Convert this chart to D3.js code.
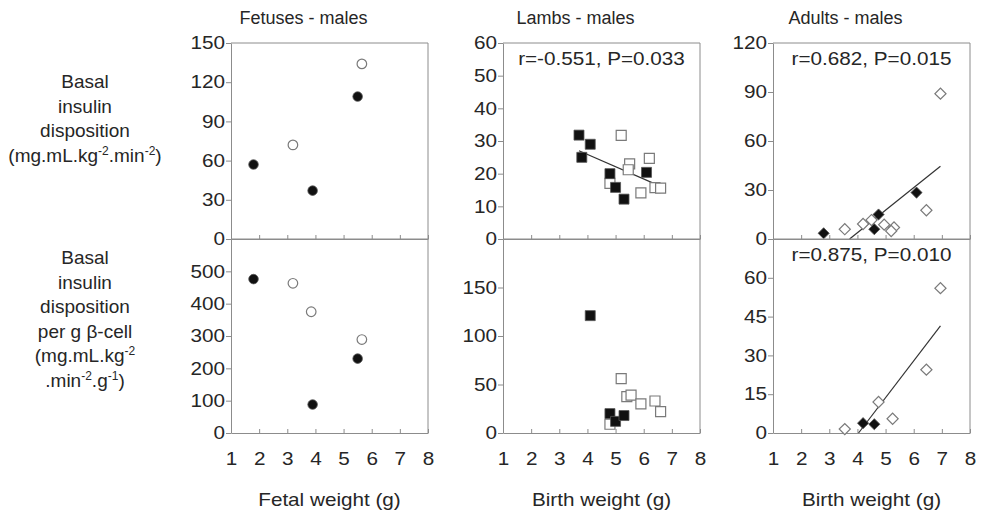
<!DOCTYPE html>
<html>
<head>
<meta charset="utf-8">
<script src="https://cdn.jsdelivr.net/npm/d3@7"></script>
<style>
  body { margin: 0; background: #fff; }
  text { font-family: "Liberation Sans", Arial, sans-serif; fill: #262626; }
</style>
</head>
<body>
<div id="chart"></div>
<script>
// ---- data ----
const columnTitles = ["Fetuses - males", "Lambs - males", "Adults - males"];
const xTitles = ["Fetal weight (g)", "Birth weight (g)", "Birth weight (g)"];
const xTicks = [1, 2, 3, 4, 5, 6, 7, 8];

const topTicks = [[0, 30, 60, 90, 120, 150], [0, 10, 20, 30, 40, 50, 60], [0, 30, 60, 90, 120]];
const bottomTicks = [[0, 100, 200, 300, 400, 500], [0, 50, 100, 150], [0, 15, 30, 45, 60]];
const topMax = [150, 60, 120];
const bottomMax = [600, 200, 75];

// Fetuses (circles)
const fetusTopFilled = [[1.8, 57], [3.9, 37], [5.5, 109]];
const fetusTopOpen = [[3.2, 72], [5.65, 134]];
const fetusBotFilled = [[1.8, 476], [3.9, 88], [5.5, 230]];
const fetusBotOpen = [[3.2, 463], [3.85, 375], [5.65, 289]];

// Lambs (squares)
const lambTopFilled = [[3.7, 31.8], [4.1, 29], [3.8, 25], [4.8, 20], [5.0, 15.8], [5.3, 12.2], [6.1, 20.4]];
const lambTopOpen = [[5.2, 31.7], [5.5, 23], [5.45, 21.2], [6.2, 24.7], [4.8, 17], [5.9, 14.1], [6.4, 15.7], [6.6, 15.6]];
const lambBotFilled = [[4.1, 121], [4.8, 20], [5.0, 12], [5.3, 18]];
const lambBotOpen = [[4.8, 9], [5.2, 56], [5.4, 37.5], [5.55, 39], [5.9, 30], [6.4, 33], [6.6, 22]];
const lambTopFit = [[3.7, 27.0], [6.5, 16.5]];

// Adults (diamonds)
const adultTopFilled = [[2.8, 3.5], [4.75, 15], [4.6, 6], [6.1, 28.4]];
const adultTopOpen = [[3.55, 6], [4.2, 9.2], [4.5, 11.6], [4.95, 8.8], [5.3, 7.1], [5.2, 4.9], [6.45, 17.6], [6.95, 89]];
const adultBotFilled = [[4.2, 3.8], [4.6, 3.4]];
const adultBotOpen = [[3.55, 1.5], [4.75, 12], [5.25, 5.5], [6.45, 24.5], [6.95, 56]];
const adultTopFit = [[3.72, 0], [6.95, 44.5]];
const adultBotFit = [[4.04, 0], [6.95, 41.4]];

const stats = ["", "r=-0.551, P=0.033", "r=0.682, P=0.015"];
const statsBottom = ["", "", "r=0.875, P=0.010"];

// ---- layout ----
const width = 987, height = 518;
const SX = 1.15;          // tick labels and annotations are stretched horizontally in the source
const FS = 18;
const panelLeft = [231, 503, 773], panelW = 197;
const yTop = 43, yMid = 239, yBot = 433;
const axisColor = "#8c8c8c";

const svg = d3.select("#chart").append("svg")
  .attr("width", width).attr("height", height);

function label(g, x, y, str, sx = SX, size = FS) {
  return g.append("text")
    .attr("transform", `translate(${x},${y}) scale(${sx},1)`)
    .attr("text-anchor", "middle")
    .attr("font-size", size)
    .text(str);
}

// label with superscripts: parts = [[text, sup?], ...]
function richLabel(g, x, y, parts, size) {
  const t = g.append("text")
    .attr("transform", `translate(${x},${y})`)
    .attr("text-anchor", "middle")
    .attr("font-size", size);
  let raised = false;
  parts.forEach(([s, sup]) => {
    const ts = t.append("tspan").text(s);
    if (sup) {
      ts.attr("font-size", 12).attr("dy", raised ? 0 : -7);
      raised = true;
    } else {
      ts.attr("dy", raised ? 7 : 0);
      raised = false;
    }
  });
  return t;
}

const shapes = [
  d3.symbol().type(d3.symbolCircle).size(72),
  d3.symbol().type(d3.symbolSquare).size(100),
  d3.symbol().type(d3.symbolSquare).size(62)
];

const panels = [
  { col: 0, row: 0, filled: fetusTopFilled, open: fetusTopOpen, fit: null },
  { col: 1, row: 0, filled: lambTopFilled, open: lambTopOpen, fit: lambTopFit },
  { col: 2, row: 0, filled: adultTopFilled, open: adultTopOpen, fit: adultTopFit },
  { col: 0, row: 1, filled: fetusBotFilled, open: fetusBotOpen, fit: null },
  { col: 1, row: 1, filled: lambBotFilled, open: lambBotOpen, fit: null },
  { col: 2, row: 1, filled: adultBotFilled, open: adultBotOpen, fit: adultBotFit }
];

panels.forEach(p => {
  const left = panelLeft[p.col];
  const top = p.row === 0 ? yTop : yMid;
  const bottom = p.row === 0 ? yMid : yBot;

  const x = d3.scaleLinear().domain([1, 8]).range([left, left + panelW]);
  const y = d3.scaleLinear()
    .domain([0, p.row === 0 ? topMax[p.col] : bottomMax[p.col]])
    .range([bottom, top]);

  const g = svg.append("g");

  // frame (top + right)
  g.append("line")
    .attr("x1", left).attr("x2", left + panelW)
    .attr("y1", top).attr("y2", top)
    .attr("stroke", axisColor);
  g.append("line")
    .attr("x1", left + panelW).attr("x2", left + panelW)
    .attr("y1", top).attr("y2", bottom)
    .attr("stroke", axisColor);

  // y axis
  const yAxis = g.append("g")
    .attr("transform", `translate(${left},0)`)
    .call(d3.axisLeft(y)
      .tickValues(p.row === 0 ? topTicks[p.col] : bottomTicks[p.col])
      .tickSize(5).tickSizeOuter(0));
  yAxis.select(".domain").attr("stroke", axisColor);
  yAxis.selectAll("line").attr("stroke", axisColor);
  yAxis.selectAll("text")
    .attr("font-family", null).attr("font-size", FS)
    .attr("fill", "#262626")
    .attr("x", -6 / SX)
    .attr("transform", `scale(${SX},1)`);

  // x axis, ticks pointing inward
  const xAxis = g.append("g")
    .attr("transform", `translate(0,${bottom})`)
    .call(d3.axisBottom(x).tickValues(xTicks)
      .tickSizeInner(-4).tickSizeOuter(0).tickPadding(19)
      .tickFormat(p.row === 1 ? d3.format("d") : () => ""));
  xAxis.select(".domain").attr("stroke", axisColor);
  xAxis.selectAll("line").attr("stroke", axisColor);
  xAxis.selectAll("text")
    .attr("font-family", null).attr("font-size", FS)
    .attr("fill", "#262626")
    .attr("transform", `scale(${SX},1)`)
    .attr("x", 0);

  // fit line
  if (p.fit) {
    g.append("path")
      .datum(p.fit)
      .attr("fill", "none")
      .attr("stroke", "#333")
      .attr("stroke-width", 1.2)
      .attr("d", d3.line().x(d => x(d[0])).y(d => y(d[1])));
  }

  const rot = p.col === 2 ? " rotate(45)" : "";
  g.selectAll(".open").data(p.open).enter().append("path")
    .attr("transform", d => `translate(${x(d[0])},${y(d[1])})${rot}`)
    .attr("d", shapes[p.col])
    .attr("fill", "#fff")
    .attr("stroke", "#7a7a7a")
    .attr("stroke-width", 1.2);
  g.selectAll(".filled").data(p.filled).enter().append("path")
    .attr("transform", d => `translate(${x(d[0])},${y(d[1])})${rot}`)
    .attr("d", shapes[p.col])
    .attr("fill", "#111")
    .attr("stroke", "#555")
    .attr("stroke-width", 0.8);

  // correlation annotation
  const s = p.row === 0 ? stats[p.col] : statsBottom[p.col];
  if (s) label(g, left + panelW / 2, p.row === 0 ? 65 : 261, s);
});

// column titles and x titles
columnTitles.forEach((t, i) => label(svg, panelLeft[i] + panelW / 2 - 26, 24, t, 1));
xTitles.forEach((t, i) => label(svg, panelLeft[i] + panelW / 2, 506, t));

// row labels
const cx = 85, LF = 19;
label(svg, cx, 88, "Basal", 1, LF);
label(svg, cx, 112.5, "insulin", 1, LF);
label(svg, cx, 137, "disposition", 1, LF);
richLabel(svg, cx, 161.5, [["(mg.mL.kg"], ["-2", true], [".min"], ["-2", true], [")"]], LF);

label(svg, cx, 264, "Basal", 1, LF);
label(svg, cx, 288.5, "insulin", 1, LF);
label(svg, cx, 313, "disposition", 1, LF);
label(svg, cx, 337.5, "per g β-cell", 1, LF);
richLabel(svg, cx, 362, [["(mg.mL.kg"], ["-2", true]], LF);
richLabel(svg, cx, 386.5, [[".min"], ["-2", true], [".g"], ["-1", true], [")"]], LF);
</script>
</body>
</html>
